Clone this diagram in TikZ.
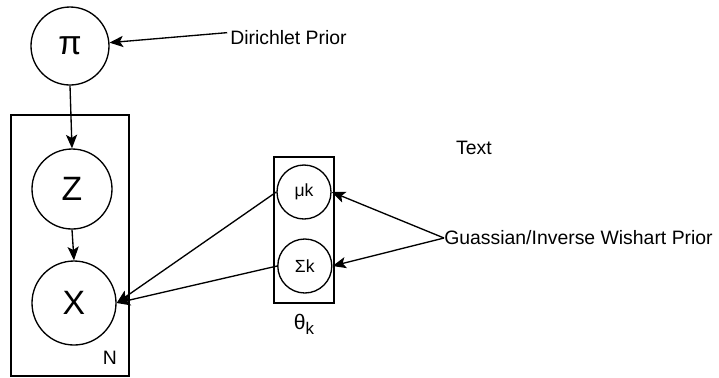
\documentclass[tikz,border=0pt]{standalone}
\usepackage{fontspec}
\setmainfont{Liberation Sans}
\usetikzlibrary{arrows.meta,positioning}

\begin{document}
\begin{tikzpicture}[
              var/.style={draw,circle,fill=white,line width=0.95pt,inner sep=0pt,
                  minimum size=2cm,font=\fontsize{24}{28}\selectfont},
              par/.style={draw,circle,fill=white,line width=0.95pt,inner sep=0pt,
                  minimum size=1.35cm,font=\fontsize{12.5}{14}\selectfont},
              plate/.style={draw,line width=0.95pt,inner sep=0pt},
              lbl/.style={font=\fontsize{13.8}{16}\selectfont,inner sep=2pt},
              flow/.style={-{Stealth[length=0.34cm,width=0.28cm,inset=0.08cm]},line width=0.95pt}
            ]
            \useasboundingbox (0,0) rectangle (17.975,-9.425);
            % plates
            \node[plate,minimum width=2.95cm,minimum height=6.525cm] (pN) at (1.75,-6.1375) {};
            \node[plate,minimum width=1.5cm,minimum height=3.65cm] (pK) at (7.6,-5.75) {};
            \node[lbl] (nN) at (2.75,-8.95) {N};
            \node[lbl,font=\fontsize{15}{17}\selectfont] (thk) at (7.6,-8.1) {θ\raisebox{-0.45ex}{\fontsize{12}{14}\selectfont k}};
            % variables
            \node[var,minimum size=1.95cm] (pi) at (1.75,-1.15) {π};
            \node[var] (z) at (1.8,-4.725) {Z};
            \node[var,minimum size=2.1cm] (x) at (1.85,-7.575) {X};
            \node[par] (mu) at (7.6,-4.8) {μk};
            \node[par] (sig) at (7.62,-6.65) {Σk};
            % text
            \node[lbl,anchor=west] (dir) at (5.68,-0.95) {Dirichlet Prior};
            \node[lbl] (txt) at (11.85,-3.7) {Text};
            \node[lbl,anchor=west,inner sep=0pt] (gw) at (11.1,-5.95) {Guassian/Inverse Wishart Prior};
            % edges
            \draw[flow] (dir.175) -- (pi);
            \draw[flow] (pi.south) -- (z.north);
            \draw[flow] (z.south) -- (x.north);
            \draw[flow] (mu.west) -- (x.east);
            \draw[flow] (sig.west) -- (x.east);
            \draw[flow] (gw.west) -- (mu.east);
            \draw[flow] (gw.west) -- (sig.east);
          \end{tikzpicture}
\end{document}
